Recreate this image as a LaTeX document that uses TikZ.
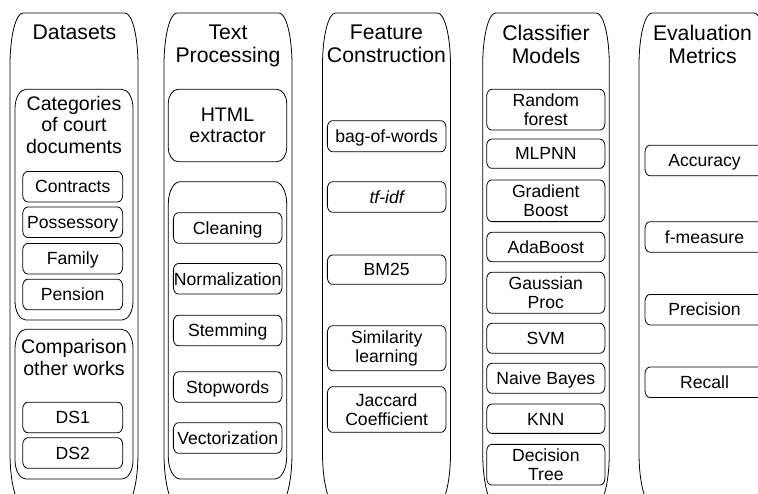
\documentclass[tikz,border=0pt]{standalone}
\usepackage{fontspec}
\setmainfont{Liberation Sans}
\newcommand{\ellframe}[3]{%
  \draw[frameline] ([xshift=#2]#1.north west) -- ([xshift=-#2]#1.north east)
    arc[start angle=90,end angle=0,x radius=#2,y radius=#3]
    -- ([yshift=#3]#1.south east)
    arc[start angle=0,end angle=-90,x radius=#2,y radius=#3]
    -- ([xshift=#2]#1.south west)
    arc[start angle=270,end angle=180,x radius=#2,y radius=#3]
    -- ([yshift=-#3]#1.north west)
    arc[start angle=180,end angle=90,x radius=#2,y radius=#3] -- cycle;}
\tikzset{
  frameline/.style={draw=black, line width=0.8pt},
  area/.style={draw=none, inner sep=0pt, outer sep=0pt},
  titletxt/.style={inner sep=0pt, align=center, anchor=north, font=\fontsize{21.2}{23.4}\selectfont},
  headtxt/.style={inner sep=0pt, align=center, anchor=north, font=\fontsize{19.6}{21.5}\selectfont},
  boxtxt/.style={area, align=center, font=\fontsize{17.6}{18.5}\selectfont},
  oneline/.style={text height=12.6pt, text depth=0pt},
  colbox/.style={area, minimum width=128pt, minimum height=492pt},
  b1/.style={boxtxt, oneline, minimum width=100pt, minimum height=30.5pt},
  b2/.style={boxtxt, oneline, minimum width=108.7pt, minimum height=30.5pt},
  b3/.style={boxtxt, minimum width=118.7pt},
  b4/.style={boxtxt, minimum width=118.3pt},
  b5/.style={boxtxt, oneline, minimum width=119pt, minimum height=30.5pt},
}
\begin{document}
\begin{tikzpicture}[x=1pt, y=-1pt]
\useasboundingbox (0,0) rectangle (758,494);
\fill[white] (0,0) rectangle (758,494);
\begin{scope}
\clip (0,0) rectangle (758,494);
% columns
\node[colbox] (c1) at (74,259) {};
\node[colbox] (c2) at (228,259) {};
\node[colbox] (c3) at (386.5,259) {};
\node[colbox, minimum width=126.6pt] (c4) at (546,259) {};
\node[colbox] (c5) at (703,259) {};
\foreach \n in {c1,c2,c3,c4,c5} {\ellframe{\n}{13pt}{52pt}}
% titles
\node[titletxt] (t1) at (74.5,24.5) {Datasets};
\node[titletxt] (t2) at (228,24.5) {Text\\Processing};
\node[titletxt] (t3) at (386.5,24.5) {Feature\\Construction};
\node[titletxt] (t4) at (546,24.5) {Classifier\\Models};
\node[titletxt] (t5) at (702.5,24.5) {Evaluation\\Metrics};
% groups
\node[area, minimum width=118pt, minimum height=230.7pt] (g1) at (74,204.7) {};
\node[area, minimum width=118pt, minimum height=149.7pt] (g2) at (74,404.2) {};
\node[area, minimum width=118.4pt, minimum height=297.3pt] (g3) at (227.5,330.35) {};
\foreach \n in {g1,g2} {\ellframe{\n}{11pt}{19pt}}
\ellframe{g3}{12pt}{22pt}
\node[area, minimum width=118.4pt, minimum height=72.4pt, align=center, font=\fontsize{19.6}{21.5}\selectfont] (html) at (227.5,125.5) {HTML\\extractor};
\ellframe{html}{10pt}{14pt}
\node[headtxt] (g1t) at (74,96) {Categories\\of court\\documents};
\node[headtxt] (g2t) at (74,339.5) {Comparison\\other works};
% column 1 boxes
\node[b1] (contracts) at (72.7,186.7) {Contracts};
\node[b1] (possessory) at (72.7,222.3) {Possessory};
\node[b1] (family) at (72.7,258.7) {Family};
\node[b1] (pension) at (72.7,294.5) {Pension};
\node[b1] (ds1) at (72.7,417.5) {DS1};
\node[b1] (ds2) at (72.7,453) {DS2};
% column 2 boxes
\node[b2] (cleaning) at (227.7,228) {Cleaning};
\node[b2] (normal) at (227.7,278.8) {Normalization};
\node[b2] (stemming) at (227.7,330.5) {Stemming};
\node[b2] (stopwords) at (227.7,387) {Stopwords};
\node[b2] (vector) at (227.7,438) {Vectorization};
% column 3 boxes
\node[b3, oneline, minimum height=31pt] (bow) at (386.7,136.2) {bag-of-words};
\node[b3, oneline, minimum height=30.6pt] (tfidf) at (386.7,197) {\itshape tf-idf};
\node[b3, oneline, minimum height=29.3pt] (bm25) at (386.7,269.7) {BM25};
\node[b3, minimum height=45pt, font=\fontsize{17.6}{19.5}\selectfont] (simil) at (386.7,348.2) {Similarity\\learning};
\node[b3, minimum height=45.6pt, font=\fontsize{17.6}{19.5}\selectfont] (jacc) at (386.7,409.5) {Jaccard\\Coefficient};
% column 4 boxes
\node[b4, minimum height=40.7pt] (rf) at (545.8,109.7) {Random\\forest};
\node[b4, oneline, minimum height=29.3pt] (mlp) at (545.8,153.7) {MLPNN};
\node[b4, minimum height=41.7pt] (gb) at (545.8,200.8) {Gradient\\Boost};
\node[b4, oneline, minimum height=29.4pt] (ada) at (545.8,247) {AdaBoost};
\node[b4, minimum height=41pt] (gp) at (545.8,292.8) {Gaussian\\Proc};
\node[b4, oneline, minimum height=30pt] (svm) at (545.8,338.3) {SVM};
\node[b4, oneline, minimum height=30pt] (nb) at (545.8,378.3) {Naive Bayes};
\node[b4, oneline, minimum height=29.3pt] (knn) at (545.8,418.7) {KNN};
\node[b4, minimum height=40.7pt] (dt) at (545.8,464.7) {Decision\\Tree};
% column 5 boxes
\node[b5] (acc) at (704.5,160.5) {Accuracy};
\node[b5] (fm) at (704.5,237) {f-measure};
\node[b5] (prec) at (704.5,309.7) {Precision};
\node[b5] (rec) at (704.5,382.3) {Recall};
\foreach \n in {contracts,possessory,family,pension,ds1,ds2,cleaning,normal,stemming,stopwords,vector,bow,tfidf,bm25,simil,jacc,rf,mlp,gb,ada,gp,svm,nb,knn,dt,acc,fm,prec,rec} {\ellframe{\n}{5pt}{7pt}}
\end{scope}
\end{tikzpicture}
\end{document}
